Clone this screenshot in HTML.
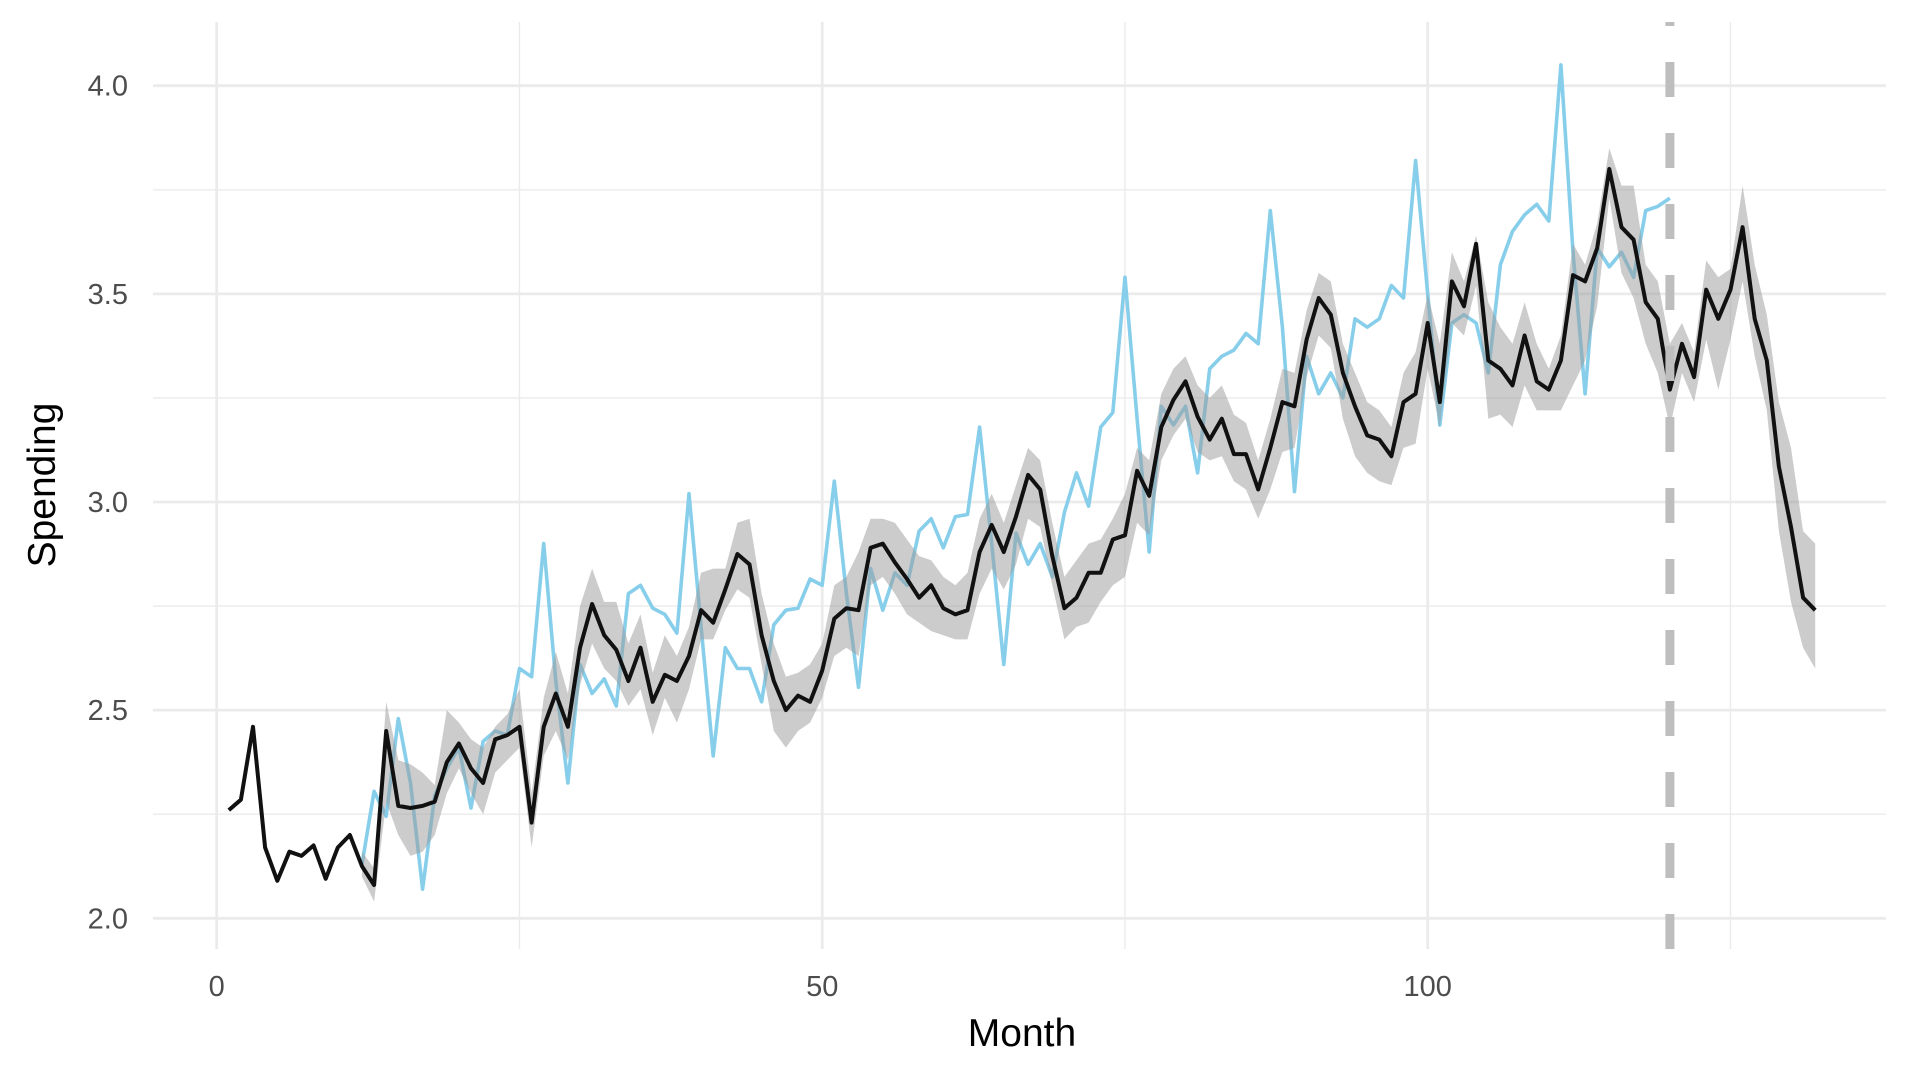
<!DOCTYPE html>
<html><head><meta charset="utf-8"><style>
html,body{margin:0;padding:0;background:#fff;}
svg{display:block;font-family:"Liberation Sans",Arial,sans-serif;}
</style></head><body>
<svg id="chart" width="1920" height="1080" viewBox="0 0 1920 1080">
<g id="grid"></g>
<g id="series"></g>
<g id="axes"></g>
<text x="1022" y="1046" text-anchor="middle" font-size="39" fill="#000">Month</text>
<text transform="translate(55,485) rotate(-90)" text-anchor="middle" font-size="39" fill="#000">Spending</text>
</svg>
<script>
const months = Array.from({length:132},(_,i)=>i+1);
const fitted = [2.26,2.285,2.46,2.17,2.09,2.16,2.15,2.175,2.095,2.17,
2.20,2.125,2.08,2.45,2.27,2.265,2.27,2.28,2.375,2.42,
2.36,2.325,2.43,2.44,2.46,2.23,2.46,2.54,2.46,2.65,
2.755,2.68,2.645,2.57,2.65,2.52,2.585,2.57,2.63,2.74,
2.71,2.79,2.875,2.85,2.68,2.57,2.50,2.535,2.52,2.595,
2.72,2.745,2.74,2.89,2.90,2.855,2.815,2.77,2.80,2.745,
2.73,2.74,2.88,2.945,2.88,2.965,3.065,3.03,2.87,2.745,
2.77,2.83,2.83,2.91,2.92,3.075,3.015,3.18,3.245,3.29,
3.205,3.15,3.20,3.115,3.115,3.03,3.13,3.24,3.23,3.39,
3.49,3.45,3.31,3.23,3.16,3.15,3.11,3.24,3.26,3.43,
3.24,3.53,3.47,3.62,3.34,3.32,3.28,3.40,3.29,3.27,
3.34,3.545,3.53,3.61,3.80,3.66,3.63,3.48,3.44,3.27,
3.38,3.30,3.51,3.44,3.51,3.66,3.44,3.34,3.085,2.94,2.77,2.74];
const actualStart = 12;
const actual = [2.13,2.305,2.245,2.48,2.325,2.07,2.295,2.36,2.41,
2.265,2.425,2.45,2.44,2.60,2.58,2.90,2.57,2.325,2.61,
2.54,2.575,2.51,2.78,2.80,2.745,2.73,2.685,3.02,2.70,
2.39,2.65,2.60,2.60,2.52,2.705,2.74,2.745,2.815,2.80,
3.05,2.78,2.555,2.84,2.74,2.83,2.80,2.93,2.96,2.89,
2.965,2.97,3.18,2.90,2.61,2.925,2.85,2.90,2.82,2.975,
3.07,2.99,3.18,3.215,3.54,3.20,2.88,3.23,3.185,3.23,
3.07,3.32,3.35,3.365,3.405,3.38,3.70,3.42,3.025,3.35,
3.26,3.31,3.25,3.44,3.42,3.44,3.52,3.49,3.82,3.50,
3.185,3.43,3.45,3.43,3.31,3.57,3.65,3.69,3.715,3.675,
4.05,3.60,3.26,3.61,3.565,3.60,3.54,3.70,3.71,3.73];
const ribbonStart = 12;
const lower = [2.10,2.04,2.28,2.20,2.15,2.16,2.20,2.30,2.36,2.30,2.25,2.35,2.38,2.41,2.17,2.39,2.45,2.38,2.56,
2.66,2.60,2.57,2.51,2.55,2.44,2.53,2.47,2.55,2.67,2.67,2.74,2.79,2.77,2.61,2.45,2.41,2.45,2.47,2.53,
2.63,2.65,2.63,2.80,2.82,2.78,2.73,2.71,2.69,2.68,2.67,2.67,2.78,2.84,2.79,2.85,2.96,2.94,2.80,2.67,
2.70,2.71,2.76,2.80,2.82,2.95,2.92,3.10,3.16,3.20,3.12,3.10,3.11,3.05,3.03,2.96,3.03,3.12,3.13,3.30,
3.40,3.37,3.20,3.11,3.07,3.05,3.04,3.13,3.14,3.32,3.18,3.43,3.40,3.52,3.20,3.21,3.18,3.28,3.22,3.22,
3.22,3.28,3.34,3.47,3.73,3.55,3.49,3.38,3.31,3.18,3.31,3.24,3.39,3.27,3.39,3.53,3.35,3.22,2.93,2.76,2.65,2.60];
const upper = [2.16,2.12,2.52,2.38,2.37,2.35,2.32,2.50,2.47,2.43,2.41,2.46,2.49,2.55,2.30,2.53,2.64,2.54,2.75,
2.84,2.76,2.76,2.66,2.73,2.59,2.68,2.63,2.70,2.83,2.84,2.84,2.95,2.96,2.78,2.66,2.58,2.59,2.61,2.66,
2.80,2.82,2.88,2.96,2.96,2.95,2.91,2.87,2.86,2.82,2.80,2.83,2.96,3.02,2.95,3.04,3.13,3.10,2.95,2.82,
2.86,2.90,2.91,2.96,3.02,3.13,3.10,3.26,3.32,3.35,3.28,3.25,3.28,3.21,3.19,3.10,3.20,3.32,3.31,3.46,
3.55,3.53,3.38,3.31,3.24,3.22,3.18,3.31,3.36,3.50,3.38,3.60,3.53,3.64,3.48,3.42,3.38,3.48,3.38,3.32,
3.40,3.62,3.57,3.67,3.85,3.76,3.76,3.57,3.53,3.38,3.43,3.36,3.58,3.54,3.56,3.76,3.57,3.45,3.24,3.13,2.93,2.90];
const xTicks = [0,50,100];
const xMinor = [25,75,125];
const yTicks = [2.0,2.5,3.0,3.5,4.0];
const yMinor = [2.25,2.75,3.25,3.75];
const cutoffMonth = 120;

const NS="http://www.w3.org/2000/svg";
const X = m => 216.7 + 12.11*m;
const Y = v => 918.3 - 416.3*(v-2);
function mk(tag, attrs, parent){const e=document.createElementNS(NS,tag);for(const k in attrs)e.setAttribute(k,attrs[k]);parent.appendChild(e);return e;}
const grid=document.getElementById('grid'), series=document.getElementById('series'), axes=document.getElementById('axes');
const L=153, R=1886, T=22, B=949;
yMinor.forEach(v=>{const e=mk('line',{x1:L,x2:R,y1:Y(v),y2:Y(v),stroke:'#ebebeb','stroke-width':1.4},grid);

});
xMinor.forEach(m=>{const e=mk('line',{x1:X(m),x2:X(m),y1:T,y2:B,stroke:'#ebebeb','stroke-width':1.4},grid);

});
yTicks.forEach(v=>{const e=mk('line',{x1:L,x2:R,y1:Y(v),y2:Y(v),stroke:'#ebebeb','stroke-width':2.8},grid);


const t=mk('text',{x:128,y:Y(v)+10,'text-anchor':'end','font-size':29,fill:'#4d4d4d'},axes);t.textContent=v.toFixed(1);

});
xTicks.forEach(m=>{const e=mk('line',{x1:X(m),x2:X(m),y1:T,y2:B,stroke:'#ebebeb','stroke-width':2.8},grid);


const t=mk('text',{x:X(m),y:996,'text-anchor':'middle','font-size':29,fill:'#4d4d4d'},axes);t.textContent=String(m);

});
let d=actual.map((v,i)=>(i?'L':'M')+X(actualStart+i).toFixed(1)+','+Y(v).toFixed(1)).join('');
const bl=mk('path',{d:d,fill:'none',stroke:'#87ceeb','stroke-width':3.6,'stroke-linejoin':'round'},series);


let rd=upper.map((v,i)=>(i?'L':'M')+X(ribbonStart+i).toFixed(1)+','+Y(v).toFixed(1)).join('');
for(let i=lower.length-1;i>=0;i--) rd+='L'+X(ribbonStart+i).toFixed(1)+','+Y(lower[i]).toFixed(1);
rd+='Z';
const rb=mk('path',{d:rd,fill:'#999999','fill-opacity':0.5,stroke:'none'},series);


let fd=fitted.map((v,i)=>(i?'L':'M')+X(months[i]).toFixed(1)+','+Y(v).toFixed(1)).join('');
const fl=mk('path',{d:fd,fill:'none',stroke:'#111111','stroke-width':4,'stroke-linejoin':'round'},series);


const cl=mk('line',{x1:X(cutoffMonth),x2:X(cutoffMonth),y1:B,y2:T,stroke:'#bebebe','stroke-width':9,'stroke-dasharray':'35 36'},series);


</script>
</body></html>
